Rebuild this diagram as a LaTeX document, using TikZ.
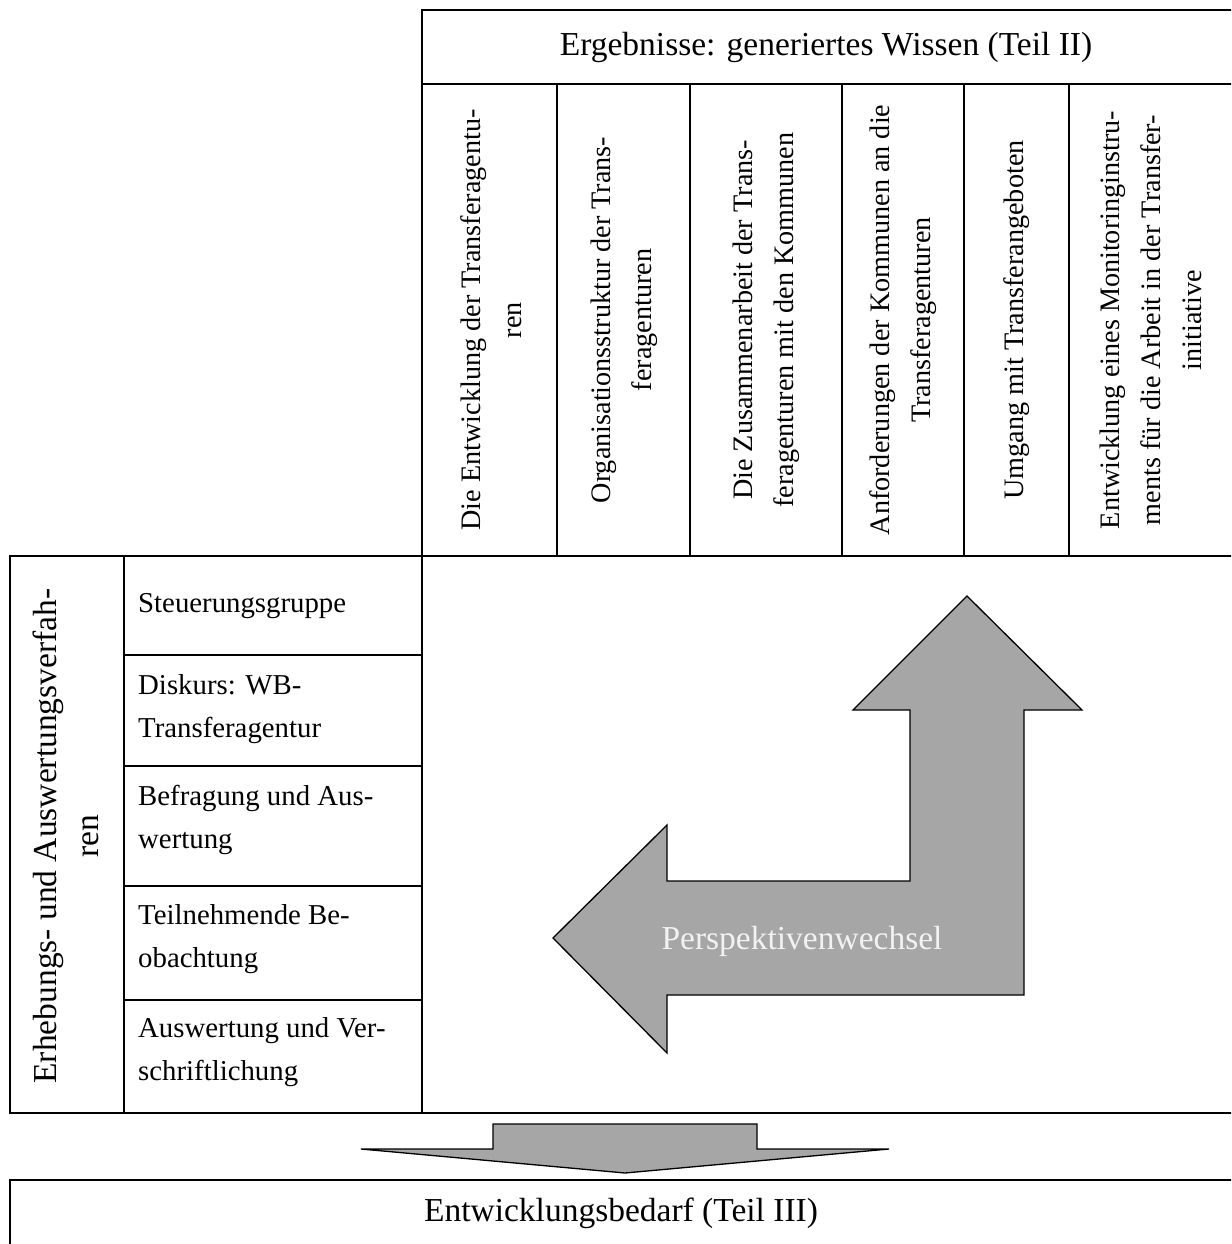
\documentclass[tikz,border=0pt]{standalone}
\usepackage{fontspec}
\setmainfont{Liberation Serif}
\definecolor{arrowgray}{HTML}{A6A6A6}
\definecolor{pwtext}{HTML}{F2F2F2}
\newcommand{\cellfont}{\fontsize{28.8}{43}\selectfont}
\newcommand{\colfont}{\fontsize{28.2}{41}\selectfont}
\newcommand{\labfont}{\fontsize{33.5}{42}\selectfont}
\begin{document}
\begin{tikzpicture}[x=1pt,y=-1pt,
  tline/.style={line width=1.9pt, line cap=rect},
  bigarrow/.style={draw=black, fill=arrowgray, line width=1.3pt, line join=miter},
  celltext/.style={anchor=north west, inner sep=0pt, align=left, font=\cellfont},
  coltext/.style={anchor=center, inner sep=0pt, align=center, rotate=90, font=\colfont},
  labtext/.style={inner sep=0pt, font=\labfont}]
\useasboundingbox (0,0) rectangle (1231,1244);
\clip (0,0) rectangle (1231,1244);

% ---------- header and columns ----------
\draw[tline] (422,10) -- (1240,10);
\draw[tline] (422,10) -- (422,1113);
\draw[tline] (422,84) -- (1240,84);
\foreach \cx in {557,690,842,964,1069}
  \draw[tline] (\cx,84) -- (\cx,556);
\draw[tline] (10,556) -- (1240,556);

\node[labtext, anchor=base] (hdr) at (826,56) {Ergebnisse: generiertes Wissen (Teil II)};

\node[coltext] (k1) at (491,320) {Die Entwicklung der Transferagentu-\\ren};
\node[coltext] (k2) at (624,320) {Organisationsstruktur der Trans-\\feragenturen};
\node[coltext] (k3) at (766,320) {Die Zusammenarbeit der Trans-\\feragenturen mit den Kommunen};
\node[coltext] (k4) at (903,320) {Anforderungen der Kommunen an die\\Transferagenturen};
\node[coltext] (k5) at (1016.5,320) {Umgang mit Transferangeboten};
\node[coltext] (k6) at (1151,320) {Entwicklung eines Monitoringinstru-\\ments für die Arbeit in der Transfer-\\initiative};

% ---------- left table ----------
\draw[tline] (10,556) -- (10,1113);
\draw[tline] (124,556) -- (124,1113);
\foreach \ry in {655,766,886,1000}
  \draw[tline] (124,\ry) -- (422,\ry);
\draw[tline] (10,1113) -- (1240,1113);

\node[labtext, rotate=90, align=center] (lab) at (66,836) {Erhebungs- und Auswertungsverfah-\\ren};

\node[celltext] (c1) at (138,593.5) {Steuerungsgruppe};
\node[celltext] (c2) at (138,674.5) {Diskurs: WB-\\Transferagentur};
\node[celltext] (c3) at (138,785.5) {Befragung und Aus-\\wertung};
\node[celltext] (c4) at (138,904.5) {Teilnehmende Be-\\obachtung};
\node[celltext] (c5) at (138,1017.5) {Auswertung und Ver-\\schriftlichung};

% ---------- L-shaped double arrow ----------
\draw[bigarrow] (967,596) -- (1082,710) -- (1024,710) -- (1024,995)
  -- (667,995) -- (667,1053) -- (553,938) -- (667,825) -- (667,881)
  -- (910,881) -- (910,710) -- (853,710) -- cycle;
\node[labtext, anchor=base, text=pwtext] (pw) at (802,949) {Perspektivenwechsel};

% ---------- down arrow ----------
\draw[bigarrow] (493,1124) -- (757,1124) -- (757,1149) -- (889,1149)
  -- (625,1173) -- (361,1149) -- (493,1149) -- cycle;

% ---------- bottom box ----------
\draw[tline] (10,1180) -- (1240,1180);
\draw[tline] (10,1180) -- (10,1260);
\node[labtext, anchor=base] (bed) at (621,1221) {Entwicklungsbedarf (Teil III)};
\end{tikzpicture}
\end{document}
